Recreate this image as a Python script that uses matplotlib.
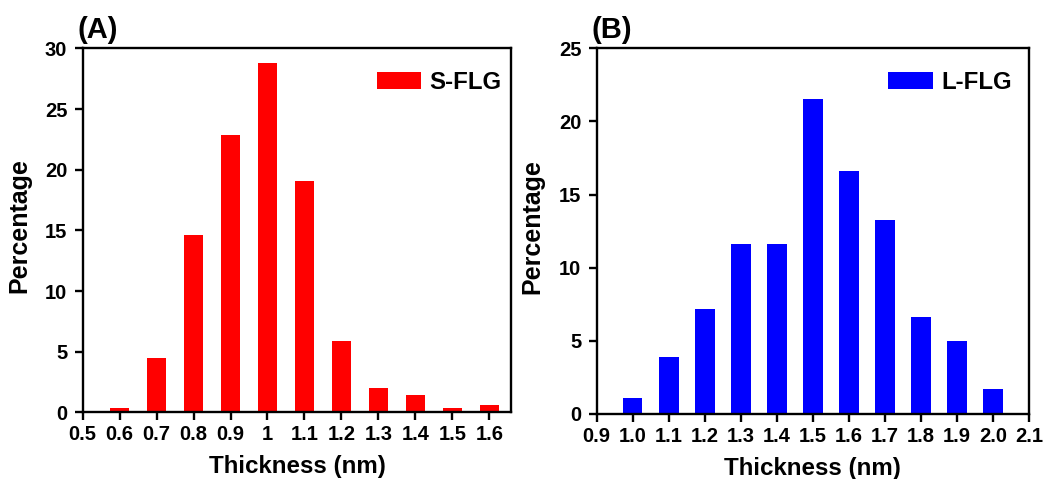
import matplotlib
matplotlib.use("Agg")
import matplotlib.pyplot as plt

# ---- data ----
ThickA = [0.6, 0.7, 0.8, 0.9, 1.0, 1.1, 1.2, 1.3, 1.4, 1.5, 1.6]
PctA = [0.33, 4.5, 14.6, 22.9, 28.8, 19.1, 5.9, 2.0, 1.45, 0.33, 0.6]
TicksA = [0.5, 0.6, 0.7, 0.8, 0.9, 1.0, 1.1, 1.2, 1.3, 1.4, 1.5, 1.6]
TickLabelsA = ["0.5", "0.6", "0.7", "0.8", "0.9", "1", "1.1", "1.2", "1.3", "1.4", "1.5", "1.6"]

ThickB = [1.0, 1.1, 1.2, 1.3, 1.4, 1.5, 1.6, 1.7, 1.8, 1.9, 2.0]
PctB = [1.07, 3.87, 7.18, 11.6, 11.6, 21.55, 16.6, 13.25, 6.6, 4.97, 1.69]
TicksB = [0.9, 1.0, 1.1, 1.2, 1.3, 1.4, 1.5, 1.6, 1.7, 1.8, 1.9, 2.0, 2.1]
TickLabelsB = ["%.1f" % t for t in TicksB]

plt.rcParams['font.family'] = ['Liberation Sans', 'DejaVu Sans']
plt.rcParams['font.weight'] = 'bold'
plt.rcParams['axes.labelweight'] = 'bold'

FontTick = 14.5
FontXLabel = 17.4
FontYLabel = 18
FontLegend = 17.3
FontLetter = 21

fig = plt.figure(figsize=(10.46, 4.79), dpi=100)
AxA = fig.add_axes([0.079, 0.139, 0.410, 0.760])
AxB = fig.add_axes([0.5705, 0.136, 0.4132, 0.763])

def Style(Ax, Ticks, Labels, XLim, YMax, Letter, LegendX, YLabX):
    Ax.set_xlim(*XLim)
    Ax.set_ylim(0, YMax)
    Ax.set_xticks(Ticks)
    Ax.set_xticklabels(Labels)
    Ax.set_yticks(range(0, YMax + 1, 5))
    Ax.tick_params(direction='out', length=6, width=1.7, labelsize=FontTick,
                   top=False, right=False)
    Ax.tick_params(axis='x', pad=3.4)
    Ax.tick_params(axis='y', pad=5)
    for s in Ax.spines.values():
        s.set_linewidth(1.7)
    Ax.set_xlabel("Thickness (nm)", fontsize=FontXLabel)
    Ax.set_ylabel("Percentage", fontsize=FontYLabel)
    Ax.xaxis.set_label_coords(0.5, -0.118)
    Ax.yaxis.set_label_coords(YLabX, 0.513)
    Ax.text(-0.012, 1.088, Letter, transform=Ax.transAxes, fontsize=FontLetter,
            fontweight='bold', ha='left', va='top')
    Ax.legend(loc='upper right', bbox_to_anchor=(LegendX, 0.965), frameon=False,
              fontsize=FontLegend, handlelength=1.86, handleheight=0.72,
              handletextpad=0.35, borderaxespad=0)

AxA.bar(ThickA, PctA, width=0.053, color='#ff0000', label='S-FLG')
Style(AxA, TicksA, TickLabelsA, (0.5, 1.66), 30, "(A)", 1.0, -0.119)

AxB.bar(ThickB, PctB, width=0.054, color='#0000ff', label='L-FLG')
Style(AxB, TicksB, TickLabelsB, (0.9, 2.1), 25, "(B)", 0.983, -0.122)

fig.savefig("out.png", dpi=100)
